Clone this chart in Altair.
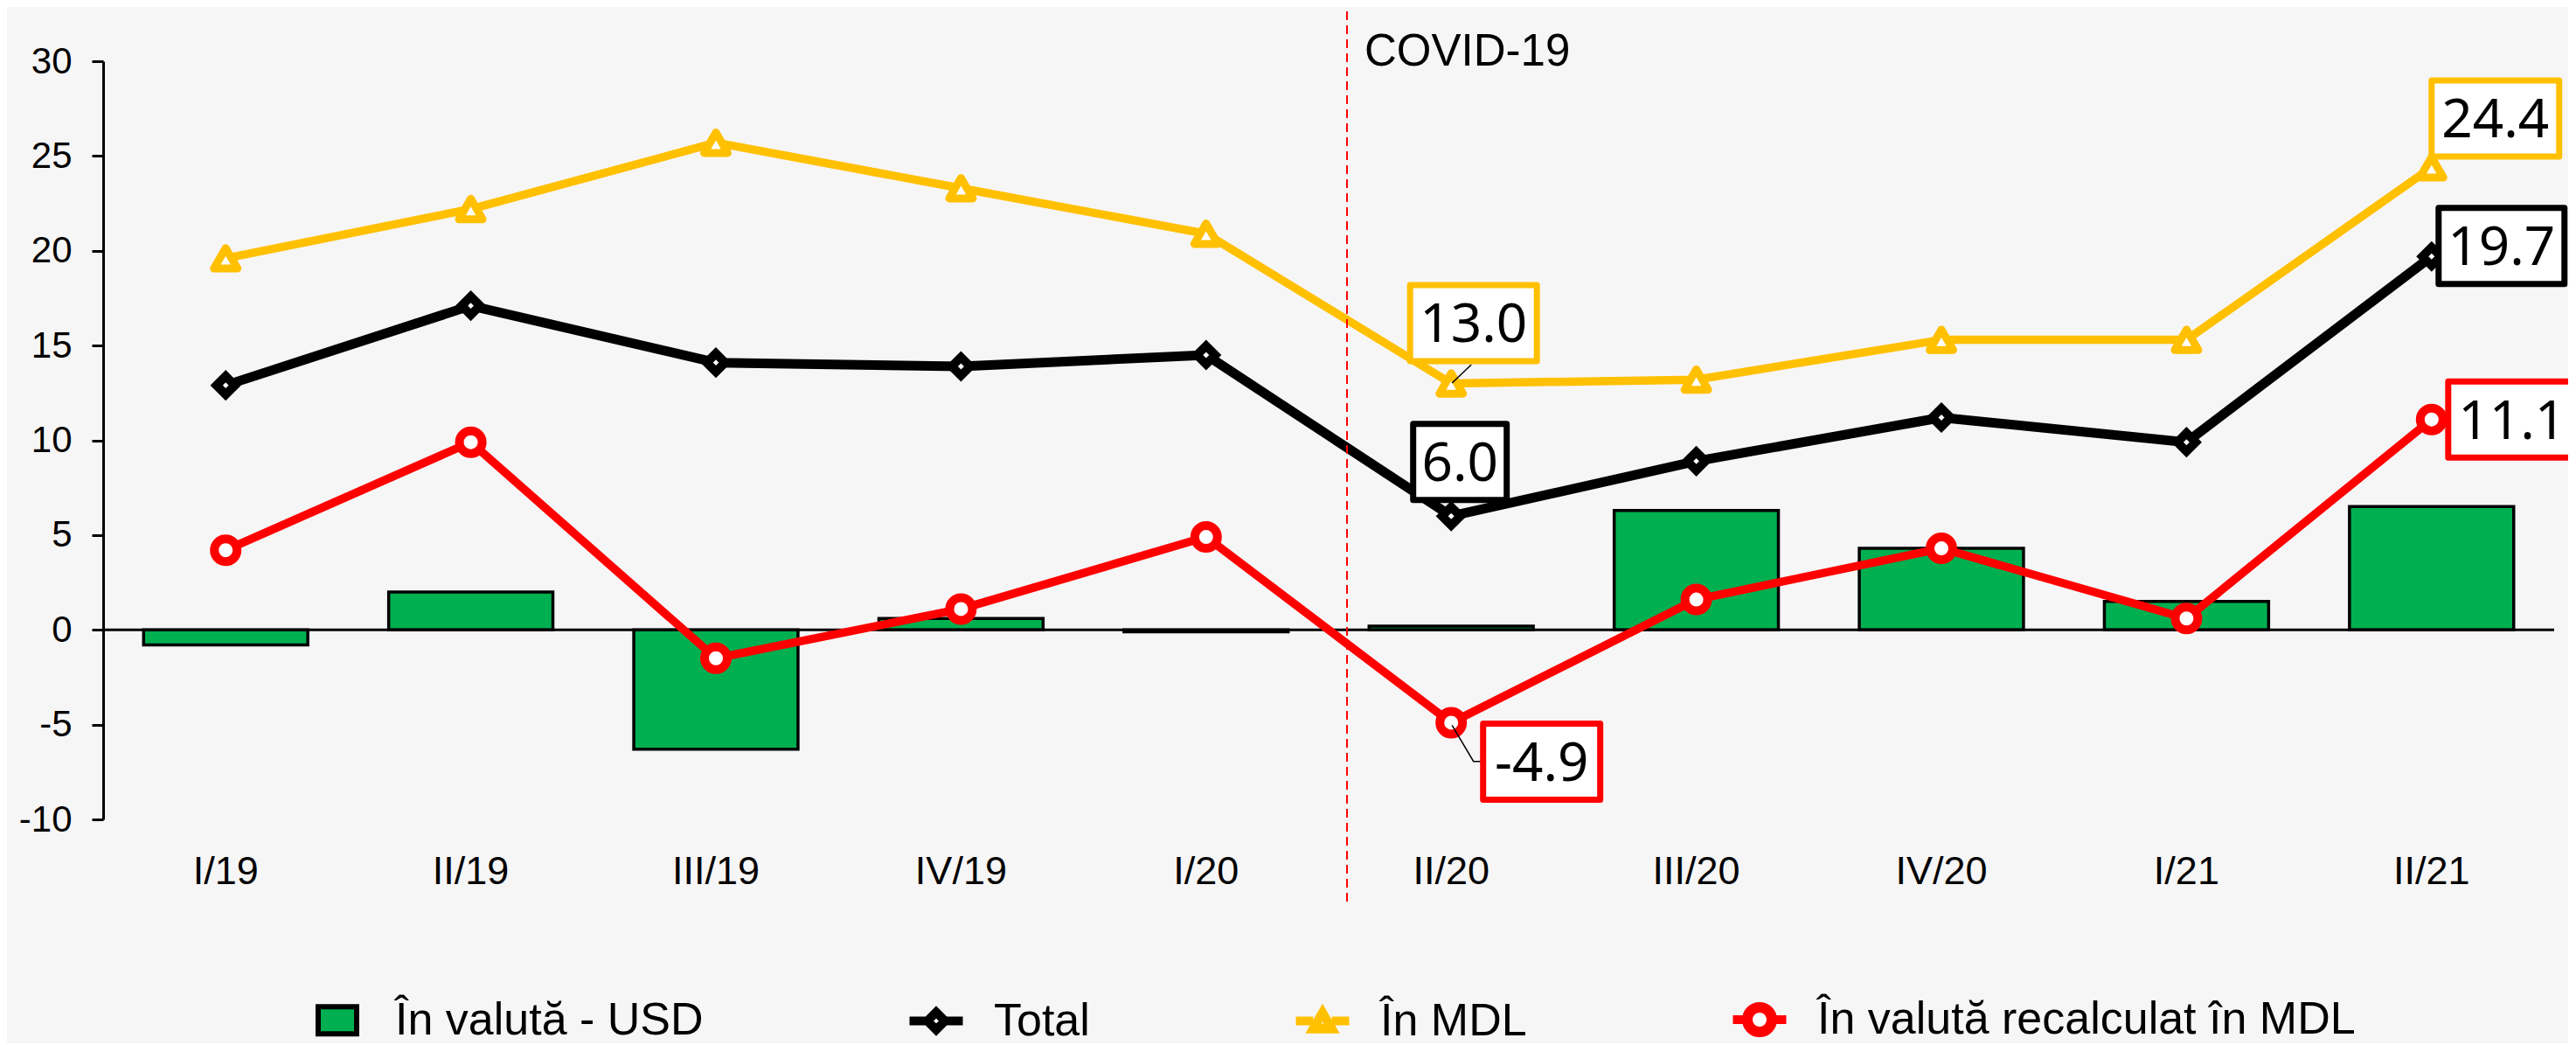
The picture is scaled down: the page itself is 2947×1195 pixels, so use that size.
import altair as alt
import pandas as pd

# ---------------- data ----------------
categories = ["I/19", "II/19", "III/19", "IV/19", "I/20", "II/20", "III/20", "IV/20", "I/21", "II/21"]
usd = [-0.8, 2.0, -6.3, 0.6, -0.1, 0.2, 6.3, 4.3, 1.5, 6.5]
total = [12.9, 17.1, 14.1, 13.9, 14.5, 6.0, 8.9, 11.2, 9.9, 19.7]
mdl = [19.6, 22.2, 25.7, 23.3, 20.9, 13.0, 13.2, 15.3, 15.3, 24.4]
recalc = [4.2, 9.9, -1.5, 1.1, 4.9, -4.9, 1.6, 4.3, 0.6, 11.1]
series_names = ["În valută - USD", "Total", "În MDL", "În valută recalculat în MDL"]
y_ticks = [-10, -5, 0, 5, 10, 15, 20, 25, 30]
covid_label = "COVID-19"
covid_after = "I/20"
labeled = [("În MDL", "II/20"), ("Total", "II/20"), ("În valută recalculat în MDL", "II/20"),
           ("În MDL", "II/21"), ("Total", "II/21"), ("În valută recalculat în MDL", "II/21")]

rows = []
for name, vals in zip(series_names, [usd, total, mdl, recalc]):
    for c, v in zip(categories, vals):
        rows.append({"cat": c, "series": name, "val": v, "lbl": f"{v:.1f}"})
df = pd.DataFrame(rows)

# ---------------- style ----------------
W, H = 2804, 867
STEP = W / len(categories)
GREEN, YELLOW, RED, BLACK = "#00B050", "#FFC000", "#FF0000", "#000000"
FONT = "Liberation Sans"
LFONT = "Noto Sans"
series_color = {series_names[0]: GREEN, series_names[1]: BLACK, series_names[2]: YELLOW, series_names[3]: RED}

xscale = alt.Scale(domain=categories, paddingInner=0.33, paddingOuter=0.165)
yscale = alt.Scale(domain=[-10, 30], nice=False, zero=False)
xax = alt.Axis(title=None)
yax = alt.Axis(title=None, values=y_ticks, labelExpr="replace(datum.label, '\u2212', '-')")


def X():
    return alt.X("cat:N", scale=xscale, axis=xax, sort=categories)


def Y():
    return alt.Y("val:Q", scale=yscale, axis=yax)


base = alt.Chart(df)

bars = base.transform_filter(alt.datum.series == series_names[0]).mark_bar(
    color=GREEN, stroke=BLACK, strokeWidth=3.5
).encode(x=X(), y=Y())

zero = alt.Chart(pd.DataFrame({"z": [0]})).mark_rule(color=BLACK, strokeWidth=3).encode(
    y=alt.YDatum(0, scale=yscale, axis=yax)
)

line_w = {series_names[1]: 11, series_names[2]: 9.5, series_names[3]: 9.5}
lines = [
    base.transform_filter(alt.datum.series == s).mark_line(
        color=series_color[s], strokeWidth=line_w[s], strokeJoin="round"
    ).encode(x=X(), y=Y())
    for s in series_names[1:]
]

marker_style = {
    series_names[1]: dict(shape="diamond", size=441, strokeWidth=10, strokeJoin="miter"),
    series_names[2]: dict(shape="triangle-up", size=729, strokeWidth=9, strokeJoin="round"),
    series_names[3]: dict(shape="circle", size=676, strokeWidth=10),
}
markers = [
    base.transform_filter(alt.datum.series == s).mark_point(
        filled=True, fill="white", stroke=series_color[s], opacity=1, **marker_style[s]
    ).encode(x=X(), y=Y())
    for s in series_names[1:]
]

cov_df = pd.DataFrame({"cat": [covid_after], "t": [covid_label]})
covid_rule = alt.Chart(cov_df).mark_rule(
    color=RED, strokeWidth=2, strokeDash=[10, 6], xOffset=STEP * 0.575
).encode(x=X(), y=alt.YDatum(32.63, scale=yscale, axis=yax), y2=alt.Y2Datum(-14.52))
covid_text = alt.Chart(cov_df).mark_text(
    align="left", baseline="alphabetic", font=FONT, fontSize=51, color=BLACK, dx=STEP * 0.575 + 20
).encode(x=X(), y=alt.YDatum(29.79, scale=yscale, axis=yax), text="t:N")

# label boxes: (dx, dy, half-width in box units)
label_style = {
    labeled[0]: (25.5, -69, 1.667),
    labeled[1]: (10, -62, 1.23),
    labeled[2]: (103.5, 44.5, 1.54),
    labeled[3]: (73, -56, 1.678),
    labeled[4]: (80, -12, 1.655),
    labeled[5]: (92, 0, 1.678),
}
leaders = {
    labeled[0]: "M0.04,-0.02L0.92,-0.86",
    labeled[2]: "M0.04,0.12L1.02,1.77L1.4,1.77",
}
ann = []
for key in labeled:
    s, c = key
    dx, dy, hw = label_style[key]
    sub = base.transform_filter((alt.datum.series == s) & (alt.datum.cat == c))
    if key in leaders:
        ann.append(sub.mark_point(shape=leaders[key], size=2500, filled=False, color=BLACK,
                                  strokeWidth=1.5, opacity=1).encode(x=X(), y=Y()))
    box_path = f"M{-hw},-1L{hw},-1L{hw},1L{-hw},1Z"
    ann.append(sub.mark_point(shape=box_path, size=7569, filled=True, fill="white",
                              stroke=series_color[s], strokeWidth=7, strokeJoin="round",
                              opacity=1, xOffset=dx, yOffset=dy).encode(x=X(), y=Y()))
    ann.append(sub.mark_text(font=LFONT, fontSize=62, color=BLACK, align="center",
                             baseline="alphabetic", dx=dx, dy=dy + 22).encode(
        x=X(), y=Y(), text="lbl:N"))

# legend (symbols only, drawn by Vega's legend)
seg = "M-1.1,-0.08L-0.55,-0.08L-0.55,0.08L-1.1,0.08Z M0.55,-0.08L1.1,-0.08L1.1,0.08L0.55,0.08Z "
sym_bar = "M-0.88,-0.62L0.88,-0.62L0.88,0.62L-0.88,0.62Z"
sym_total = seg + "M-0.52,0L0,-0.52L0.52,0L0,0.52Z M-0.28,0L0,-0.28L0.28,0L0,0.28Z"
sym_mdl = seg + "M0,-0.55L0.58,0.45L-0.58,0.45Z M0,-0.22L0.26,0.24L-0.26,0.24Z"
sym_rec = seg + ("M0.68,0A0.68,0.68 0 1,1 -0.68,0A0.68,0.68 0 1,1 0.68,0Z "
                 "M0.44,0A0.44,0.44 0 1,1 -0.44,0A0.44,0.44 0 1,1 0.44,0Z")

LEG = alt.Legend(title=None, orient="none", legendX=240, legendY=1068, direction="horizontal",
                 columnPadding=226, labelFontSize=52, labelFont=FONT, labelColor=BLACK,
                 symbolSize=2500, symbolStrokeWidth=6, labelOffset=38, padding=0,
                 labelLimit=2000, labelBaseline="middle")
legend_layer = alt.Chart(pd.DataFrame({"series": series_names})).transform_filter("false").mark_point(
    filled=True, opacity=1, strokeWidth=6
).encode(
    fill=alt.Fill("series:N", scale=alt.Scale(domain=series_names, range=[GREEN, "white", "white", "white"]),
                  legend=LEG),
    stroke=alt.Stroke("series:N", scale=alt.Scale(domain=series_names, range=[BLACK, BLACK, YELLOW, RED]),
                      legend=LEG),
    shape=alt.Shape("series:N", scale=alt.Scale(domain=series_names, range=[sym_bar, sym_total, sym_mdl, sym_rec]),
                    legend=LEG),
)

chart = alt.layer(
    bars, zero, *lines, *markers, covid_rule, covid_text, *ann, legend_layer
).properties(
    width=W, height=H,
    autosize=alt.AutoSizeParams(type="none"),
    padding={"left": 110, "top": 62, "right": 16, "bottom": 256},
    background="#f7f6f6",
).configure_view(strokeWidth=0).configure_axisX(
    domain=False, ticks=False, tickSize=0, labelPadding=37, labelFontSize=45, labelFont=FONT,
    labelColor=BLACK, labelAngle=0, grid=False
).configure_axisY(
    domainColor=BLACK, domainWidth=3, tickColor=BLACK, tickWidth=3, tickSize=13, labelPadding=23,
    labelFontSize=42, labelFont=FONT, labelColor=BLACK, grid=False
).configure_legend(
    symbolFillColor="white", symbolStrokeColor=BLACK
)

chart.save("out.html", embed_options={"renderer": "svg", "actions": False})
